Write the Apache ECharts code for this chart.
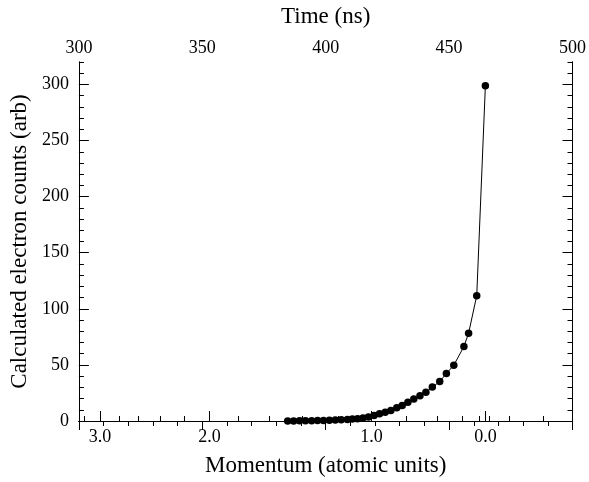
<!DOCTYPE html>
<html>
<head>
<meta charset="utf-8">
<script src="https://cdn.jsdelivr.net/npm/echarts@6/dist/echarts.min.js"></script>
<style>
  html, body { margin: 0; padding: 0; background: #fff; }
  #chart { width: 589px; height: 482px; }
</style>
</head>
<body>
<div id="chart"></div>
<script>
// time of flight (ns) of each point
var times = [384.6, 387.0, 389.4, 391.8, 394.3, 396.7, 399.1, 401.5, 403.9, 406.3,
  408.8, 410.8, 412.9, 415.1, 417.3, 419.6, 421.8, 424.1, 426.4, 428.8,
  431.0, 433.3, 435.7, 438.2, 440.6, 443.2, 446.2, 448.9, 451.9, 456.0,
  457.9, 461.2, 464.7]
// calculated counts (arb)
var counts = [0.1, 0.1, 0.15, 0.2, 0.3, 0.35, 0.5, 0.7, 0.9, 1.1,
  1.4, 1.8, 2.1, 2.6, 3.5, 4.8, 6.4, 7.9, 9.4, 11.7,
  13.8, 16.8, 19.7, 22.4, 25.7, 30.2, 35.1, 42.4, 49.7, 66.4,
  78.3, 111.7, 298.9]

// momentum axis (bottom) is not linear in time, so ticks sit at these times
var momentumLabels = ['3.0', '2.0', '1.0', '0.0']
var momentumMajorTimes = [308.6, 352.9, 418.6, 464.7]
var momentumMinorTimes = [302.1, 316.2, 324.0, 333.0, 342.6, 364.6, 377.3, 390.6, 405.1,
  432.8, 445.0, 455.2, 462.3, 466.4, 474.4, 488.2]

var countLabels = [0, 50, 100, 150, 200, 250, 300]

var font = 'Liberation Serif, Times New Roman, serif'
var black = '#000'

function momentumName(v) {
    var best = 0
    for (var i = 1; i < momentumMajorTimes.length; i++) {
        if (Math.abs(momentumMajorTimes[i] - v) < Math.abs(momentumMajorTimes[best] - v)) best = i
    }
    return momentumLabels[best]
}

var line = { show: true, lineStyle: { color: black, width: 1 } }

var chart = echarts.init(document.getElementById('chart'))
chart.setOption({
    animation: false,
    backgroundColor: '#fff',
    grid: { left: 77, right: 15.5, top: 60, bottom: 57 },
    xAxis: [
        {
            type: 'value', position: 'top', min: 300, max: 500, interval: 50,
            axisLine: line,
            axisTick: { inside: true, length: 9, lineStyle: { color: black } },
            minorTick: { show: true, splitNumber: 5, length: 5, lineStyle: { color: black } },
            axisLabel: { color: black, fontSize: 18, fontFamily: font, margin: 5 },
            splitLine: { show: false },
            name: 'Time (ns)', nameLocation: 'middle', nameGap: 34,
            nameTextStyle: { color: black, fontSize: 23, fontFamily: font }
        },
        {
            type: 'value', position: 'bottom', min: 300, max: 500,
            axisLine: line,
            axisTick: { inside: true, length: 10, customValues: momentumMajorTimes, lineStyle: { color: black } },
            axisLabel: {
                color: black, fontSize: 18, fontFamily: font, margin: 7,
                customValues: momentumMajorTimes, formatter: momentumName
            },
            splitLine: { show: false },
            name: 'Momentum (atomic units)', nameLocation: 'middle', nameGap: 33,
            nameTextStyle: { color: black, fontSize: 23, fontFamily: font }
        },
        {
            type: 'value', position: 'bottom', min: 300, max: 500,
            axisLine: line,
            axisTick: { inside: true, length: 5, customValues: momentumMinorTimes, lineStyle: { color: black } },
            axisLabel: { show: false },
            splitLine: { show: false }
        }
    ],
    yAxis: [
        {
            type: 'value', position: 'left', min: 0, max: 320, interval: 10,
            axisLine: line,
            axisTick: { inside: true, length: 5, lineStyle: { color: black } },
            axisLabel: { color: black, fontSize: 18, fontFamily: font, margin: 10, customValues: countLabels },
            splitLine: { show: false },
            name: 'Calculated electron counts (arb)', nameLocation: 'middle', nameGap: 45,
            nameTextStyle: { color: black, fontSize: 23, fontFamily: font }
        },
        {
            type: 'value', position: 'left', min: 0, max: 320,
            axisLine: line,
            axisTick: { inside: true, length: 10, customValues: countLabels, lineStyle: { color: black } },
            axisLabel: { show: false },
            splitLine: { show: false }
        },
        {
            type: 'value', position: 'right', min: 0, max: 320, interval: 10,
            axisLine: line,
            axisTick: { inside: true, length: 5, lineStyle: { color: black } },
            axisLabel: { show: false },
            splitLine: { show: false }
        },
        {
            type: 'value', position: 'right', min: 0, max: 320,
            axisLine: line,
            axisTick: { inside: true, length: 10, customValues: countLabels, lineStyle: { color: black } },
            axisLabel: { show: false },
            splitLine: { show: false }
        }
    ],
    series: [{
        type: 'line',
        xAxisIndex: 0,
        yAxisIndex: 0,
        data: times.map(function (t, i) { return [t, counts[i]] }),
        symbol: 'circle',
        symbolSize: 7.5,
        showAllSymbol: true,
        itemStyle: { color: black },
        lineStyle: { color: black, width: 1 }
    }]
})
</script>
</body>
</html>
